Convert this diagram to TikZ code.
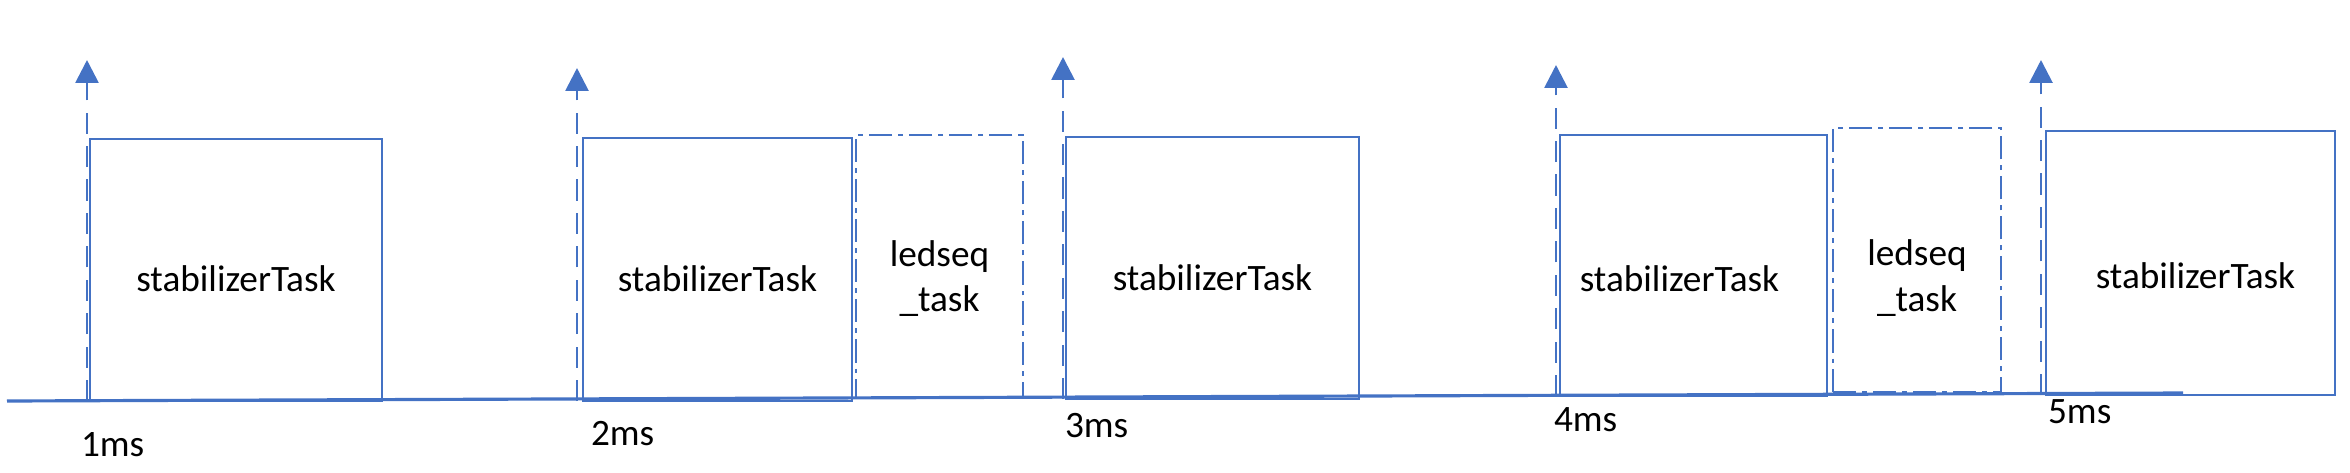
\documentclass[tikz,border=0pt]{standalone}
\usepackage{fontspec}
\setmainfont{Carlito}
\usetikzlibrary{calc,positioning,arrows.meta}
\definecolor{taskblue}{HTML}{4472C4}

\begin{document}
\begin{tikzpicture}[x=0.01cm,y=-0.01cm,every node/.style={draw=taskblue,line width=0.6pt,inner sep=0pt},
     every node/.append style={font=\fontsize{10.6}{13}\selectfont,align=center},
     ledbox/.style={dash pattern=on 6.6pt off 1.7pt on 1.4pt off 1.7pt},
     txt/.style={draw=none},
     tick/.style={draw=taskblue,line width=0.8pt,dash pattern=on 6pt off 3.5pt,-{Triangle[width=6.5pt,length=6.5pt]}},
     axisline/.style={draw=taskblue,line width=0.9pt}]
     \useasboundingbox (0,0) rectangle (2350,472);
     % time axis
     \coordinate (axL) at (7,401);
     \coordinate (axR) at (2183,393);
     \draw[axisline](axL)--(axR);
     % task boxes
     \node at (236,270)[minimum width=2.92cm,minimum height=2.62cm](stab1){};
     \node at (717.5,269.5)[minimum width=2.69cm,minimum height=2.63cm](stab2){};
     \node at (939.5,266.5)[ledbox,minimum width=1.67cm,minimum height=2.63cm](led1){};
     \node at (1212.5,268)[minimum width=2.93cm,minimum height=2.62cm](stab3){};
     \node at (1693.5,265.5)[minimum width=2.67cm,minimum height=2.61cm](stab4){};
     \node at (1917,260)[ledbox,minimum width=1.68cm,minimum height=2.64cm](led2){};
     \node at (2190.5,263)[minimum width=2.89cm,minimum height=2.64cm](stab5){};
     \node at ($(stab1)+(0,9)$)[txt]{stabilizerTask};
     \node at ($(stab2)+(0,9)$)[txt]{stabilizerTask};
     \node at ($(led1)+(0,12)$)[txt]{ledseq\\\_task};
     \node at ($(stab3)+(0,10)$)[txt]{stabilizerTask};
     \node at ($(stab4)+(-14,13)$)[txt]{stabilizerTask};
     \node at ($(led2)+(0,18)$)[txt]{ledseq\\\_task};
     \node at ($(stab5)+(5,13)$)[txt]{stabilizerTask};
     % release ticks
     \coordinate (bot1) at (87,401);   \coordinate (top1) at (87,60);
     \coordinate (bot2) at (577,401);  \coordinate (top2) at (577,68);
     \coordinate (bot3) at (1063,399); \coordinate (top3) at (1063,57);
     \coordinate (bot4) at (1556,396); \coordinate (top4) at (1556,65);
     \coordinate (bot5) at (2041,395); \coordinate (top5) at (2041,60);
     \foreach \i in {1,...,5}
        \draw[tick](bot\i)--(top\i);
     % time labels
     \node at (80,445)[txt,anchor=west](ms1){1ms};
     \node at (590,434)[txt,anchor=west](ms2){2ms};
     \node at (1064,426)[txt,anchor=west](ms3){3ms};
     \node at (1553,420)[txt,anchor=west](ms4){4ms};
     \node at (2047,412)[txt,anchor=west](ms5){5ms};
\end{tikzpicture}
\end{document}
